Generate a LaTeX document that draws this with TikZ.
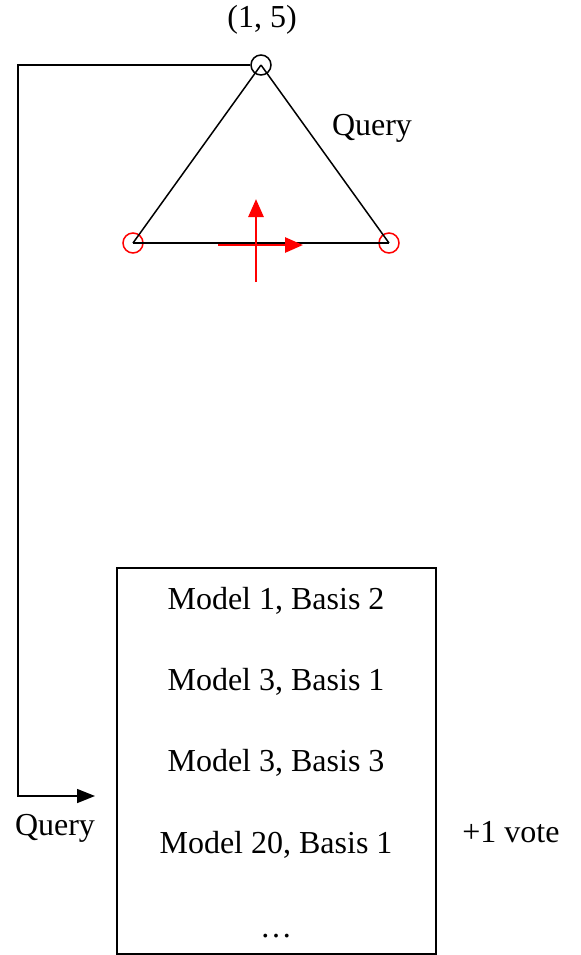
\documentclass[tikz,border=0pt]{standalone}
\usepackage{fontspec}
\setmainfont{Liberation Serif}
\usetikzlibrary{arrows.meta}

\begin{document}
\begin{tikzpicture}[x=0.5pt, y=-0.5pt, line width=0.75pt,
  every node/.style={font=\fontsize{16}{19}\selectfont},
  vertex/.style={circle, draw, inner sep=0pt, minimum size=10pt},
  redvertex/.style={vertex, draw=red},
  label/.style={inner sep=1pt}]

\useasboundingbox (0,0) rectangle (581,955);

% Triangle vertices
\node[vertex] (top) at (261,65) {};
\node[redvertex] (bl) at (133,243) {};
\node[redvertex] (br) at (389,243) {};
\node[label] (pt) at (262,20) {(1, 5)};
\node[label] (q1) at (372,128) {Query};

% Triangle sides
\draw (top.center) -- (bl.center);
\draw (top.center) -- (br.center);
\draw (bl.center) -- (br.center);

% Red basis axes
\coordinate (ax0) at (218,245);
\coordinate (ax1) at (303,245);
\coordinate (ay0) at (256,282);
\coordinate (ay1) at (256,199);
\draw[red, line width=1.4pt, -{Triangle[length=9pt, width=7.5pt]}] (ax0) -- (ax1);
\draw[red, line width=1.4pt, -{Triangle[length=9pt, width=7.5pt]}] (ay0) -- (ay1);

% Hash table
\node[draw, minimum width=159.5pt, minimum height=193pt] (table) at (276.5,761) {};
\node (m1) at (276,601) {Model 1, Basis 2};
\node (m2) at (276,682) {Model 3, Basis 1};
\node (m3) at (276,763) {Model 3, Basis 3};
\node (m4) at (276,845) {Model 20, Basis 1};
\node (m5) at (276,936) {\dots};
\node (vote) at (511,832) {+1 vote};

% Query wire
\coordinate (c1) at (18,65);
\coordinate (c2) at (18,796);
\coordinate (c3) at (95,796);
\node[label] (q2) at (55,828) {Query};
\draw[-{Triangle[length=9pt, width=7pt]}] (top.west) -- (c1) -- (c2) -- (c3);

\end{tikzpicture}
\end{document}
